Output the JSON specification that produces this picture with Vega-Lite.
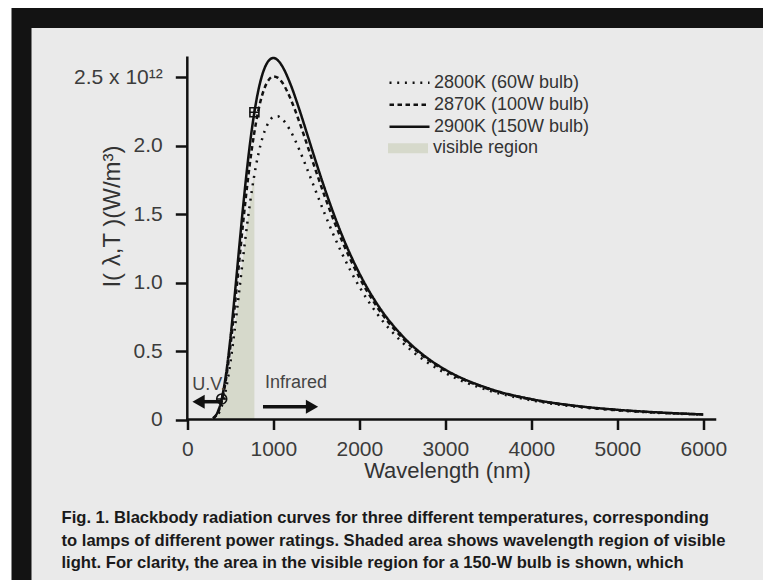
{
  "$schema": "https://vega.github.io/schema/vega-lite/v6.json",
  "width": 741.5,
  "height": 562,
  "autosize": {"type": "none"},
  "padding": {"left": 21.5, "top": 18, "right": 0, "bottom": 0},
  "background": "#ffffff",
  "view": {"fill": "#eaeaea", "stroke": "#131313", "strokeWidth": 20, "strokeDash": [741.5, 1303.5, 562, 10], "strokeCap": "square"},
  "title": {
    "text": [
      "Fig. 1.  Blackbody radiation curves for three different temperatures, corresponding",
      "to lamps of different power ratings. Shaded area shows wavelength region of visible",
      "light. For clarity, the area in the visible region for a 150-W bulb is shown, which"
    ],
    "orient": "bottom",
    "anchor": "start",
    "offset": -70,
    "dx": 40,
    "font": "Liberation Sans",
    "fontSize": 16.6,
    "fontWeight": "bold",
    "color": "#1a1a1a",
    "lineHeight": 22.5
  },
  "datasets": {
    "curves": [
      {"wl": 300, "series": "2900K (150W bulb)", "I": 0.010},
      {"wl": 350, "series": "2900K (150W bulb)", "I": 0.050},
      {"wl": 400, "series": "2900K (150W bulb)", "I": 0.150},
      {"wl": 450, "series": "2900K (150W bulb)", "I": 0.330},
      {"wl": 500, "series": "2900K (150W bulb)", "I": 0.587},
      {"wl": 550, "series": "2900K (150W bulb)", "I": 0.899},
      {"wl": 600, "series": "2900K (150W bulb)", "I": 1.234},
      {"wl": 650, "series": "2900K (150W bulb)", "I": 1.562},
      {"wl": 700, "series": "2900K (150W bulb)", "I": 1.861},
      {"wl": 750, "series": "2900K (150W bulb)", "I": 2.116},
      {"wl": 800, "series": "2900K (150W bulb)", "I": 2.318},
      {"wl": 850, "series": "2900K (150W bulb)", "I": 2.468},
      {"wl": 900, "series": "2900K (150W bulb)", "I": 2.567},
      {"wl": 950, "series": "2900K (150W bulb)", "I": 2.622},
      {"wl": 1000, "series": "2900K (150W bulb)", "I": 2.639},
      {"wl": 1050, "series": "2900K (150W bulb)", "I": 2.624},
      {"wl": 1100, "series": "2900K (150W bulb)", "I": 2.583},
      {"wl": 1200, "series": "2900K (150W bulb)", "I": 2.447},
      {"wl": 1300, "series": "2900K (150W bulb)", "I": 2.268},
      {"wl": 1400, "series": "2900K (150W bulb)", "I": 2.071},
      {"wl": 1500, "series": "2900K (150W bulb)", "I": 1.872},
      {"wl": 1600, "series": "2900K (150W bulb)", "I": 1.682},
      {"wl": 1800, "series": "2900K (150W bulb)", "I": 1.343},
      {"wl": 2000, "series": "2900K (150W bulb)", "I": 1.068},
      {"wl": 2200, "series": "2900K (150W bulb)", "I": 0.850},
      {"wl": 2500, "series": "2900K (150W bulb)", "I": 0.611},
      {"wl": 2800, "series": "2900K (150W bulb)", "I": 0.445},
      {"wl": 3000, "series": "2900K (150W bulb)", "I": 0.364},
      {"wl": 3500, "series": "2900K (150W bulb)", "I": 0.228},
      {"wl": 4000, "series": "2900K (150W bulb)", "I": 0.149},
      {"wl": 4500, "series": "2900K (150W bulb)", "I": 0.101},
      {"wl": 5000, "series": "2900K (150W bulb)", "I": 0.071},
      {"wl": 5500, "series": "2900K (150W bulb)", "I": 0.051},
      {"wl": 6000, "series": "2900K (150W bulb)", "I": 0.037},
      {"wl": 300, "series": "2870K (100W bulb)", "I": 0.009},
      {"wl": 350, "series": "2870K (100W bulb)", "I": 0.043},
      {"wl": 400, "series": "2870K (100W bulb)", "I": 0.132},
      {"wl": 450, "series": "2870K (100W bulb)", "I": 0.294},
      {"wl": 500, "series": "2870K (100W bulb)", "I": 0.529},
      {"wl": 550, "series": "2870K (100W bulb)", "I": 0.818},
      {"wl": 600, "series": "2870K (100W bulb)", "I": 1.132},
      {"wl": 650, "series": "2870K (100W bulb)", "I": 1.443},
      {"wl": 700, "series": "2870K (100W bulb)", "I": 1.728},
      {"wl": 750, "series": "2870K (100W bulb)", "I": 1.974},
      {"wl": 800, "series": "2870K (100W bulb)", "I": 2.172},
      {"wl": 850, "series": "2870K (100W bulb)", "I": 2.321},
      {"wl": 900, "series": "2870K (100W bulb)", "I": 2.423},
      {"wl": 950, "series": "2870K (100W bulb)", "I": 2.482},
      {"wl": 1000, "series": "2870K (100W bulb)", "I": 2.505},
      {"wl": 1050, "series": "2870K (100W bulb)", "I": 2.496},
      {"wl": 1100, "series": "2870K (100W bulb)", "I": 2.463},
      {"wl": 1200, "series": "2870K (100W bulb)", "I": 2.342},
      {"wl": 1300, "series": "2870K (100W bulb)", "I": 2.177},
      {"wl": 1400, "series": "2870K (100W bulb)", "I": 1.993},
      {"wl": 1500, "series": "2870K (100W bulb)", "I": 1.806},
      {"wl": 1600, "series": "2870K (100W bulb)", "I": 1.626},
      {"wl": 1800, "series": "2870K (100W bulb)", "I": 1.303},
      {"wl": 2000, "series": "2870K (100W bulb)", "I": 1.038},
      {"wl": 2200, "series": "2870K (100W bulb)", "I": 0.828},
      {"wl": 2500, "series": "2870K (100W bulb)", "I": 0.596},
      {"wl": 2800, "series": "2870K (100W bulb)", "I": 0.436},
      {"wl": 3000, "series": "2870K (100W bulb)", "I": 0.357},
      {"wl": 3500, "series": "2870K (100W bulb)", "I": 0.223},
      {"wl": 4000, "series": "2870K (100W bulb)", "I": 0.146},
      {"wl": 4500, "series": "2870K (100W bulb)", "I": 0.099},
      {"wl": 5000, "series": "2870K (100W bulb)", "I": 0.069},
      {"wl": 5500, "series": "2870K (100W bulb)", "I": 0.050},
      {"wl": 6000, "series": "2870K (100W bulb)", "I": 0.037},
      {"wl": 300, "series": "2800K (60W bulb)", "I": 0.006},
      {"wl": 350, "series": "2800K (60W bulb)", "I": 0.030},
      {"wl": 400, "series": "2800K (60W bulb)", "I": 0.096},
      {"wl": 450, "series": "2800K (60W bulb)", "I": 0.223},
      {"wl": 500, "series": "2800K (60W bulb)", "I": 0.412},
      {"wl": 550, "series": "2800K (60W bulb)", "I": 0.651},
      {"wl": 600, "series": "2800K (60W bulb)", "I": 0.918},
      {"wl": 650, "series": "2800K (60W bulb)", "I": 1.190},
      {"wl": 700, "series": "2800K (60W bulb)", "I": 1.445},
      {"wl": 750, "series": "2800K (60W bulb)", "I": 1.670},
      {"wl": 800, "series": "2800K (60W bulb)", "I": 1.857},
      {"wl": 850, "series": "2800K (60W bulb)", "I": 2.002},
      {"wl": 900, "series": "2800K (60W bulb)", "I": 2.107},
      {"wl": 950, "series": "2800K (60W bulb)", "I": 2.174},
      {"wl": 1000, "series": "2800K (60W bulb)", "I": 2.208},
      {"wl": 1050, "series": "2800K (60W bulb)", "I": 2.213},
      {"wl": 1100, "series": "2800K (60W bulb)", "I": 2.195},
      {"wl": 1200, "series": "2800K (60W bulb)", "I": 2.106},
      {"wl": 1300, "series": "2800K (60W bulb)", "I": 1.973},
      {"wl": 1400, "series": "2800K (60W bulb)", "I": 1.818},
      {"wl": 1500, "series": "2800K (60W bulb)", "I": 1.657},
      {"wl": 1600, "series": "2800K (60W bulb)", "I": 1.498},
      {"wl": 1800, "series": "2800K (60W bulb)", "I": 1.210},
      {"wl": 2000, "series": "2800K (60W bulb)", "I": 0.970},
      {"wl": 2200, "series": "2800K (60W bulb)", "I": 0.778},
      {"wl": 2500, "series": "2800K (60W bulb)", "I": 0.563},
      {"wl": 2800, "series": "2800K (60W bulb)", "I": 0.413},
      {"wl": 3000, "series": "2800K (60W bulb)", "I": 0.339},
      {"wl": 3500, "series": "2800K (60W bulb)", "I": 0.213},
      {"wl": 4000, "series": "2800K (60W bulb)", "I": 0.140},
      {"wl": 4500, "series": "2800K (60W bulb)", "I": 0.095},
      {"wl": 5000, "series": "2800K (60W bulb)", "I": 0.067},
      {"wl": 5500, "series": "2800K (60W bulb)", "I": 0.048},
      {"wl": 6000, "series": "2800K (60W bulb)", "I": 0.036}
    ],
    "visible": [
      {"wl": 350, "I": 0.030, "region": "visible region"},
      {"wl": 400, "I": 0.096, "region": "visible region"},
      {"wl": 450, "I": 0.223, "region": "visible region"},
      {"wl": 500, "I": 0.412, "region": "visible region"},
      {"wl": 550, "I": 0.651, "region": "visible region"},
      {"wl": 600, "I": 0.918, "region": "visible region"},
      {"wl": 650, "I": 1.190, "region": "visible region"},
      {"wl": 700, "I": 1.445, "region": "visible region"},
      {"wl": 750, "I": 1.670, "region": "visible region"},
      {"wl": 780, "I": 1.787, "region": "visible region"}
    ]
  },
  "layer": [
    {
      "data": {"name": "visible"},
      "mark": {"type": "area", "interpolate": "monotone"},
      "encoding": {
        "x": {
          "field": "wl", "type": "quantitative",
          "scale": {"domain": [-1928, 6694], "nice": false, "zero": false},
          "axis": {
            "title": "Wavelength (nm)",
            "values": [0, 1000, 2000, 3000, 4000, 5000, 6000],
            "format": "d",
            "offset": -160.5,
            "domain": false, "grid": false,
            "tickSize": 10, "tickWidth": 2.5, "tickColor": "#111111",
            "labelFont": "Liberation Sans", "labelFontSize": 21, "labelColor": "#3c3c3c",
            "labelPadding": 9,
            "titleFont": "Liberation Sans", "titleFontSize": 22, "titleFontWeight": "normal", "titleColor": "#333333",
            "titleX": 425.5, "titleY": 51, "titleBaseline": "middle", "titleAlign": "center", "titleAnchor": null
          }
        },
        "y": {
          "field": "I", "type": "quantitative",
          "scale": {"domain": [-1.1715, 2.931], "nice": false, "zero": false},
          "axis": {
            "title": "I( λ,T )(W/m³)",
            "values": [0, 0.5, 1, 1.5, 2, 2.5],
            "labelExpr": "datum.value == 2.5 ? '2.5 x 10¹²' : (datum.value == 0 ? '0' : format(datum.value, '.1f'))",
            "offset": -165.8,
            "domain": false, "grid": false,
            "tickSize": 12, "tickWidth": 2.5, "tickColor": "#111111",
            "labelFont": "Liberation Sans", "labelFontSize": 21, "labelColor": "#3c3c3c",
            "labelPadding": 13,
            "titleFont": "Liberation Sans", "titleFontSize": 24, "titleFontWeight": "normal", "titleColor": "#333333",
            "titleX": -75.3, "titleY": 198, "titleBaseline": "middle", "titleAlign": "center", "titleAngle": -90
          }
        },
        "fill": {
          "field": "region", "type": "nominal",
          "scale": {"range": ["#d6d9cb"]},
          "legend": {
            "title": null, "orient": "none", "legendX": 366.5, "legendY": 120.3, "padding": 0,
            "symbolType": "M-1,-0.25H1V0.25H-1Z", "symbolSize": 1600, "symbolStrokeWidth": 0, "symbolOpacity": 1,
            "clipHeight": 20,
            "labelFont": "Liberation Sans", "labelFontSize": 18, "labelColor": "#333333", "labelOffset": 5
          }
        }
      }
    },
    {
      "data": {"name": "curves"},
      "mark": {"type": "line", "interpolate": "monotone", "color": "#111111", "strokeWidth": 2.5},
      "encoding": {
        "x": {"field": "wl", "type": "quantitative"},
        "y": {"field": "I", "type": "quantitative"},
        "strokeDash": {
          "field": "series", "type": "nominal",
          "scale": {
            "domain": ["2800K (60W bulb)", "2870K (100W bulb)", "2900K (150W bulb)"],
            "range": [[2, 5.7], [4.5, 3.5], [1, 0]]
          },
          "legend": {
            "title": null, "orient": "none", "legendX": 366.5, "legendY": 54.7, "padding": 0,
            "symbolType": "stroke", "symbolSize": 1600, "symbolStrokeWidth": 2.5, "symbolStrokeColor": "#111111",
            "clipHeight": 20,
            "labelFont": "Liberation Sans", "labelFontSize": 18, "labelColor": "#333333", "labelOffset": 3,
            "rowPadding": 2
          }
        }
      }
    },
    {
      "data": {"values": [
        {"x": 0, "x2": 6136, "y": 0, "y2": 0},
        {"x": 0, "x2": 0, "y": 0, "y2": 2.64}
      ]},
      "mark": {"type": "rule", "color": "#111111", "strokeWidth": 2.5, "strokeCap": "square"},
      "encoding": {
        "x": {"field": "x", "type": "quantitative"},
        "x2": {"field": "x2"},
        "y": {"field": "y", "type": "quantitative"},
        "y2": {"field": "y2"}
      }
    },
    {
      "data": {"values": [
        {"x": 131, "x2": 406, "y": 0.13},
        {"x": 880, "x2": 1450, "y": 0.093}
      ]},
      "mark": {"type": "rule", "color": "#111111", "strokeWidth": 3.5},
      "encoding": {
        "x": {"field": "x", "type": "quantitative"},
        "x2": {"field": "x2"},
        "y": {"field": "y", "type": "quantitative"}
      }
    },
    {
      "data": {"values": [{"wl": 131, "I": 0.13}]},
      "mark": {"type": "point", "shape": "triangle-left", "filled": true, "color": "#111111", "size": 200, "opacity": 1},
      "encoding": {
        "x": {"field": "wl", "type": "quantitative"},
        "y": {"field": "I", "type": "quantitative"}
      }
    },
    {
      "data": {"values": [{"wl": 1450, "I": 0.093}]},
      "mark": {"type": "point", "shape": "triangle-right", "filled": true, "color": "#111111", "size": 200, "opacity": 1},
      "encoding": {
        "x": {"field": "wl", "type": "quantitative"},
        "y": {"field": "I", "type": "quantitative"}
      }
    },
    {
      "data": {"values": [{"wl": 400, "I": 0.15}]},
      "mark": {"type": "point", "shape": "circle", "filled": false, "color": "#111111", "strokeWidth": 1.6, "size": 100, "opacity": 1},
      "encoding": {
        "x": {"field": "wl", "type": "quantitative"},
        "y": {"field": "I", "type": "quantitative"}
      }
    },
    {
      "data": {"values": [{"wl": 400, "I": 0.15}, {"wl": 780, "I": 2.243}]},
      "mark": {"type": "point", "shape": "M-1,0H1M0,-1V1", "filled": false, "color": "#111111", "strokeWidth": 1.4, "size": 90, "opacity": 1},
      "encoding": {
        "x": {"field": "wl", "type": "quantitative"},
        "y": {"field": "I", "type": "quantitative"}
      }
    },
    {
      "data": {"values": [{"wl": 780, "I": 2.243}]},
      "mark": {"type": "point", "shape": "square", "filled": false, "color": "#111111", "strokeWidth": 1.6, "size": 80, "opacity": 1},
      "encoding": {
        "x": {"field": "wl", "type": "quantitative"},
        "y": {"field": "I", "type": "quantitative"}
      }
    },
    {
      "data": {"values": [
        {"wl": 57, "I": 0.252, "label": "U.V."},
        {"wl": 903, "I": 0.266, "label": "Infrared"}
      ]},
      "mark": {"type": "text", "align": "left", "baseline": "middle", "font": "Liberation Sans", "fontSize": 18, "color": "#444444"},
      "encoding": {
        "x": {"field": "wl", "type": "quantitative"},
        "y": {"field": "I", "type": "quantitative"},
        "text": {"field": "label"}
      }
    }
  ]
}
